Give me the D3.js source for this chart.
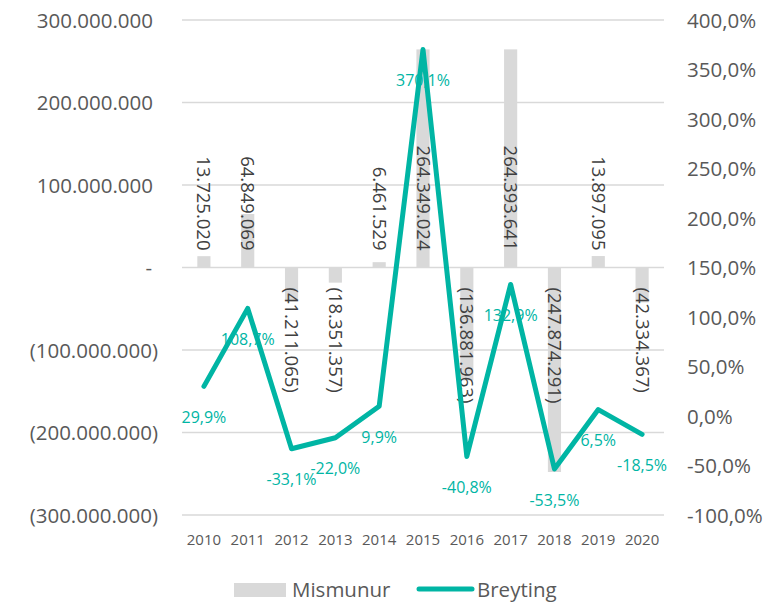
<!DOCTYPE html>
<html><head><meta charset="utf-8">
<script src="https://cdn.jsdelivr.net/npm/d3@7"></script>
<style>body{margin:0;background:#fff}svg{display:block;font-family:"Open Sans",sans-serif}</style>
</head><body><svg id="c" width="784" height="602"></svg>
<script>
const years = ["2010","2011","2012","2013","2014","2015","2016","2017","2018","2019","2020"];
const mismunur = [13725020, 64849069, -41211065, -18351357, 6461529, 264349024, -136881963, 264393641, -247874291, 13897095, -42334367];
const breyting = [29.9, 108.7, -33.1, -22.0, 9.9, 370.1, -40.8, 132.9, -53.5, 6.5, -18.5];
const leftTicks = [-300000000, -200000000, -100000000, 0, 100000000, 200000000, 300000000];
const rightTicks = [-100, -50, 0, 50, 100, 150, 200, 250, 300, 350, 400];
const seriesNames = ["Mismunur", "Breyting"];

const svg = d3.select("#c");
const L = 182, R = 664, T = 20, B = 515;
const teal = "#00b5a4", gray = "#d9d9d9", txt = "#595959";

const x = d3.scaleBand().domain(years).range([L, R]).paddingInner(0.7).paddingOuter(0.35);
const yL = d3.scaleLinear().domain([-300000000, 300000000]).range([B, T]);
const yR = d3.scaleLinear().domain([-100, 400]).range([B, T]);

const thou = n => d3.format(",")(Math.abs(n)).replace(/,/g, ".");
const fmtL = v => v === 0 ? "-" : (v < 0 ? "(" + thou(v) + ")" : thou(v));
const fmtPct = v => (v < 0 ? "-" : "") + d3.format(".1f")(Math.abs(v)).replace(".", ",") + "%";

// gridlines
svg.append("g").selectAll("line").data(leftTicks).join("line")
  .attr("x1", L).attr("x2", R).attr("y1", d => yL(d)).attr("y2", d => yL(d))
  .attr("stroke", gray).attr("stroke-width", 1.3);

// left axis
const axL = svg.append("g").attr("transform", `translate(${L},0)`)
  .call(d3.axisLeft(yL).tickValues(leftTicks).tickFormat(fmtL).tickSize(0).tickPadding(0));
axL.select(".domain").remove();
axL.selectAll("text").attr("font-size", 20.5).attr("fill", txt)
  .attr("font-family", "Open Sans").attr("x", d => d < 0 ? -24 : (d === 0 ? -30 : -29)).attr("dy", "0.35em");

// right axis
const axR = svg.append("g").attr("transform", `translate(${R},0)`)
  .call(d3.axisRight(yR).tickValues(rightTicks).tickFormat(fmtPct).tickSize(0).tickPadding(23));
axR.select(".domain").remove();
axR.selectAll("text").attr("font-size", 20.5).attr("fill", txt).attr("font-family", "Open Sans").attr("dy", "0.35em");

// x axis labels
const axX = svg.append("g").attr("transform", `translate(0,540)`)
  .call(d3.axisBottom(x).tickSize(0).tickPadding(0));
axX.select(".domain").remove();
axX.selectAll("text").attr("font-size", 15).attr("fill", txt).attr("font-family", "Open Sans").attr("dy", "0.35em");

// bars
svg.append("g").selectAll("rect").data(years).join("rect")
  .attr("x", (d) => x(d)).attr("width", x.bandwidth())
  .attr("y", (d, i) => Math.min(yL(mismunur[i]), yL(0)))
  .attr("height", (d, i) => Math.abs(yL(mismunur[i]) - yL(0)))
  .attr("fill", gray);

// bar labels
svg.append("g").selectAll("text").data(years).join("text")
  .attr("transform", (d, i) => {
    const cx = x(d) + x.bandwidth() / 2;
    const yy = mismunur[i] >= 0 ? yL(0) - 17 : yL(0) + 20;
    return `translate(${cx},${yy}) rotate(90)`;
  })
  .attr("text-anchor", (d, i) => mismunur[i] >= 0 ? "end" : "start")
  .attr("dy", "0.35em")
  .attr("font-size", 18.5).attr("fill", "#404040")
  .text((d, i) => fmtL(mismunur[i]));

// pct labels
svg.append("g").selectAll("text").data(years).join("text")
  .attr("x", d => x(d) + x.bandwidth() / 2)
  .attr("y", (d, i) => yR(breyting[i]) + 31)
  .attr("dy", "0.35em").attr("text-anchor", "middle")
  .attr("font-size", 16).attr("fill", teal)
  .text((d, i) => fmtPct(breyting[i]));

// line
const line = d3.line().x((d, i) => x(years[i]) + x.bandwidth() / 2).y(d => yR(d));
svg.append("path").datum(breyting).attr("d", line)
  .attr("fill", "none").attr("stroke", teal).attr("stroke-width", 5)
  .attr("stroke-linejoin", "round").attr("stroke-linecap", "round");

// legend
const lg = svg.append("g");
lg.append("rect").attr("x", 234).attr("y", 583).attr("width", 52).attr("height", 14).attr("fill", gray);
lg.append("text").attr("x", 292).attr("y", 590).attr("dy", "0.35em").attr("font-size", 20.5).attr("fill", txt).text(seriesNames[0]);
lg.append("line").attr("x1", 419).attr("x2", 472).attr("y1", 589).attr("y2", 589)
  .attr("stroke", teal).attr("stroke-width", 5).attr("stroke-linecap", "round");
lg.append("text").attr("x", 477).attr("y", 590).attr("dy", "0.35em").attr("font-size", 20.5).attr("fill", txt).text(seriesNames[1]);
</script></body></html>
